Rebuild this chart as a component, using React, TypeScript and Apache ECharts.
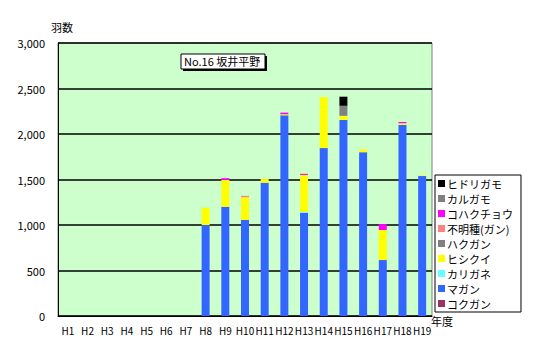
import React, { useEffect, useRef } from "react";
import * as echarts from "echarts";

const categories = ["H1","H2","H3","H4","H5","H6","H7","H8","H9","H10","H11","H12","H13","H14","H15","H16","H17","H18","H19"];
const yTicks = [0, 500, 1000, 1500, 2000, 2500, 3000];

const kokugan    = [0,0,0,0,0,0,0,0,0,0,0,0,0,0,0,0,0,0,0];
const magan      = [0,0,0,0,0,0,0,1000,1200,1055,1465,2205,1135,1845,2155,1800,615,2100,1538];
const karigane   = [0,0,0,0,0,0,0,0,0,0,0,0,10,0,0,0,0,0,0];
const hishikui   = [0,0,0,0,0,0,0,190,295,250,40,12,405,560,45,30,330,18,8];
const hakugan    = [0,0,0,0,0,0,0,0,0,0,0,0,0,0,0,0,0,0,0];
const fumei      = [0,0,0,0,0,0,0,0,0,15,0,0,0,0,0,0,0,0,0];
const kohakucho  = [0,0,0,0,0,0,0,0,20,0,0,18,12,0,0,0,65,14,0];
const karugamo   = [0,0,0,0,0,0,0,0,0,0,0,0,0,0,110,0,0,0,0];
const hidorigamo = [0,0,0,0,0,0,0,0,0,0,0,0,0,0,100,0,0,0,0];

const seriesDefs = [
  { name: "コクガン", data: kokugan, color: "#993366" },
  { name: "マガン", data: magan, color: "#3366FF" },
  { name: "カリガネ", data: karigane, color: "#66FFFF" },
  { name: "ヒシクイ", data: hishikui, color: "#FFFF00" },
  { name: "ハクガン", data: hakugan, color: "#808080" },
  { name: "不明種(ガン)", data: fumei, color: "#FF8080" },
  { name: "コハクチョウ", data: kohakucho, color: "#FF00FF" },
  { name: "カルガモ", data: karugamo, color: "#808080" },
  { name: "ヒドリガモ", data: hidorigamo, color: "#000000" },
];

const FONT = "'Noto Sans CJK JP', sans-serif";

export default function App() {
  const ref = useRef<HTMLDivElement>(null);
  useEffect(() => {
    if (!ref.current) return;
    const chart = echarts.init(ref.current, null, { renderer: "svg" });
    chart.setOption({
      animation: false,
      backgroundColor: "#FFFFFF",
      textStyle: { fontFamily: FONT },
      grid: {
        left: 58, right: 113, top: 43, bottom: 44,
        show: true, backgroundColor: "#CCFFCC", borderColor: "#808080", borderWidth: 1,
      },
      legend: {
        orient: "vertical",
        left: 435, top: 175,
        data: seriesDefs.map((s) => s.name).reverse(),
        icon: "rect",
        itemWidth: 7, itemHeight: 7, itemGap: 4,
        padding: [3, 8, 3, 3],
        borderColor: "#000000", borderWidth: 1,
        backgroundColor: "#FFFFFF",
        textStyle: { fontFamily: FONT, fontSize: 11, color: "#000", lineHeight: 11, padding: [0, 0, 0, -3] },
      },
      xAxis: {
        type: "category",
        data: categories,
        axisLine: { lineStyle: { color: "#000", width: 1 } },
        axisTick: { inside: true, length: 3, lineStyle: { color: "#000" } },
        axisLabel: { interval: 0, fontFamily: FONT, fontSize: 10, color: "#000", margin: 9 },
      },
      yAxis: {
        type: "value",
        min: yTicks[0], max: yTicks[yTicks.length - 1], interval: 500,
        axisLine: { show: true, lineStyle: { color: "#000", width: 1 } },
        axisTick: { show: false },
        splitLine: { lineStyle: { color: "#000", width: 1.5 } },
        axisLabel: {
          fontFamily: FONT, fontSize: 11, color: "#000", margin: 13,
          formatter: (v: number) => v.toLocaleString("en-US"),
        },
      },
      series: seriesDefs.map((s) => ({
        name: s.name,
        type: "bar",
        stack: "total",
        barWidth: 8,
        data: s.data,
        itemStyle: { color: s.color },
      })),
      graphic: [
        { type: "text", left: 51, top: 21, style: { text: "羽数", font: `11px ${FONT}`, fill: "#000" } },
        { type: "text", left: 431, top: 315, style: { text: "年度", font: `11px ${FONT}`, fill: "#000" } },
        { type: "rect", shape: { x: 183, y: 56, width: 84, height: 15 }, style: { fill: "#000" } },
        { type: "rect", shape: { x: 181, y: 54, width: 84, height: 15 }, style: { fill: "#FFFFFF", stroke: "#000", lineWidth: 1 } },
        { type: "text", left: 184, top: 55, style: { text: "No.16 坂井平野", font: `11px ${FONT}`, fill: "#000" } },
      ],
    });
    return () => chart.dispose();
  }, []);
  return <div ref={ref} style={{ position: "fixed", left: 0, top: 0, width: 545, height: 360 }} />;
}
